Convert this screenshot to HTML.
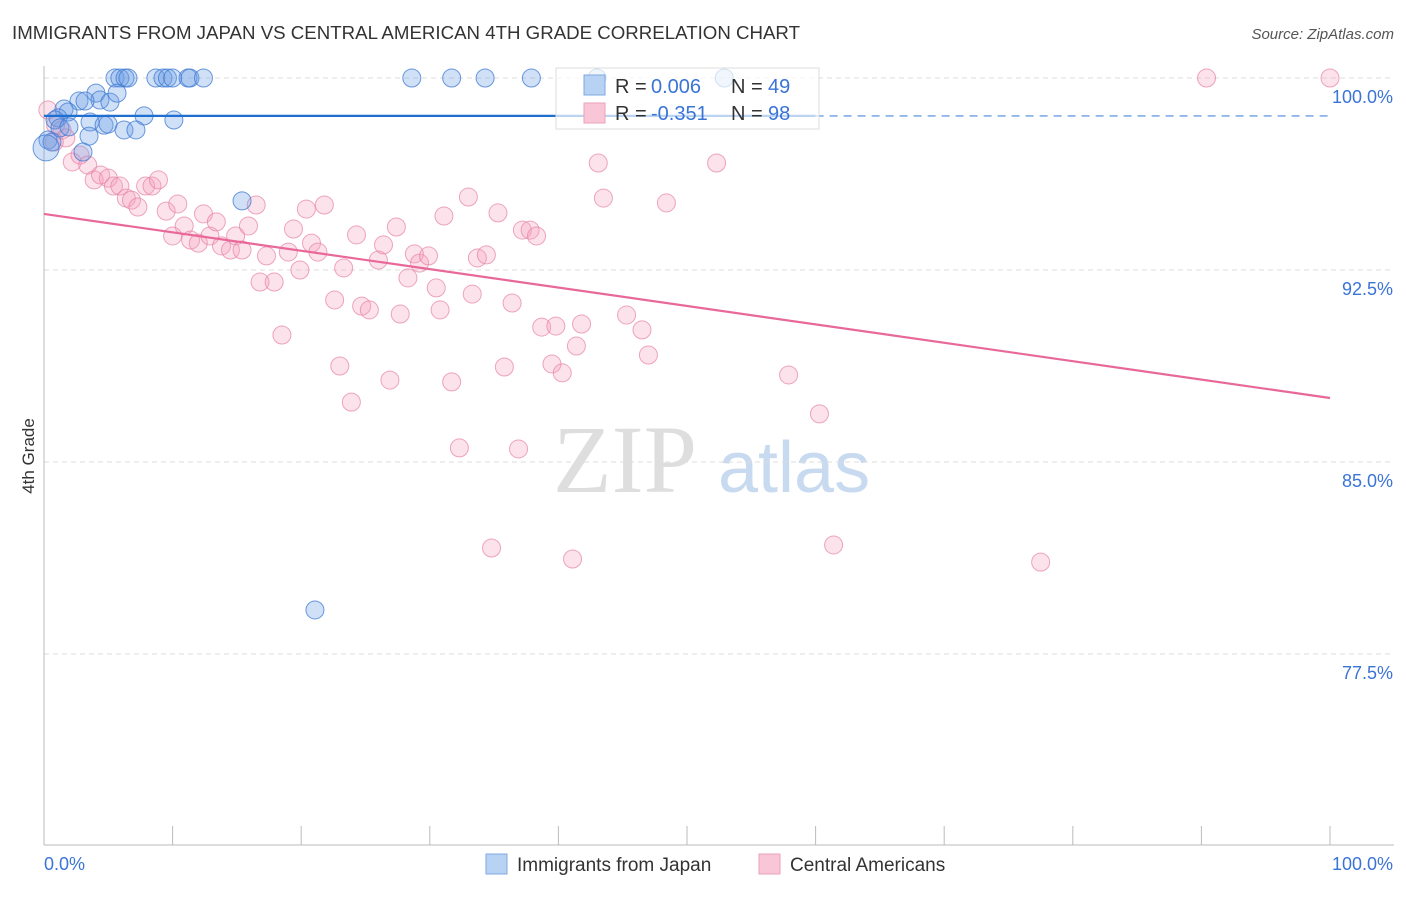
<!DOCTYPE html>
<html><head><meta charset="utf-8"><style>
body{margin:0;background:#fff;font-family:"Liberation Sans",sans-serif}
</style></head><body>
<svg id="chart" width="1406" height="892" xmlns="http://www.w3.org/2000/svg" font-family="Liberation Sans, sans-serif">
<text x="12" y="39" font-size="18" fill="#333" textLength="788" lengthAdjust="spacingAndGlyphs">IMMIGRANTS FROM JAPAN VS CENTRAL AMERICAN 4TH GRADE CORRELATION CHART</text>
<text x="1394" y="39" font-size="15" fill="#555" font-style="italic" text-anchor="end">Source: ZipAtlas.com</text>
<text transform="translate(34,456) rotate(-90)" font-size="17" fill="#333" text-anchor="middle">4th Grade</text>
<g>
<text x="553" y="492" font-size="96" fill="#dedede" font-family="Liberation Serif, serif">ZIP</text>
<text x="718" y="492" font-size="72" fill="#c8daf0">atlas</text>
</g>
<g id="grid"></g>
<g id="axes"></g>
<g id="pts"></g>
<g id="lines"></g>
<g>
<rect x="556" y="68" width="263" height="61" fill="rgba(255,255,255,0.7)" stroke="#ddd"/>
<rect x="584" y="75" width="21" height="20" fill="#b8d2f4" stroke="#7fa8e0"/>
<rect x="584" y="103" width="21" height="20" fill="#f8c6d6" stroke="#eaa2bc"/>
<text x="615" y="93" font-size="20" fill="#333">R = </text><text x="651" y="93" font-size="20" fill="#3a74d6">0.006</text>
<text x="731" y="93" font-size="20" fill="#333">N = </text><text x="768" y="93" font-size="20" fill="#3a74d6">49</text>
<text x="615" y="120" font-size="20" fill="#333">R = </text><text x="651" y="120" font-size="20" fill="#3a74d6">-0.351</text>
<text x="731" y="120" font-size="20" fill="#333">N = </text><text x="768" y="120" font-size="20" fill="#3a74d6">98</text>
</g>
<g>
<rect x="486" y="854" width="21" height="20" fill="#b8d2f4" stroke="#7fa8e0"/>
<text x="517" y="871" font-size="19" fill="#333">Immigrants from Japan</text>
<rect x="759" y="854" width="21" height="20" fill="#f8c6d6" stroke="#eaa2bc"/>
<text x="790" y="871" font-size="19" fill="#333">Central Americans</text>
</g>
</svg>
<script>
const yTicks=[100,92.5,85,77.5];
const yTickLabels=["100.0%","92.5%","85.0%","77.5%"];
const xTickCount=10;
const blueX=[5.52,5.9,6.3,6.53,8.7,9.25,9.6,10.0,11.2,11.35,12.4,28.6,31.7,34.3,37.9,43.0,52.9,4.04,4.35,2.72,3.19,5.13,5.68,1.56,1.87,1.09,0.86,7.78,10.1,1.24,1.94,3.58,4.67,4.98,6.22,7.15,3.5,0.31,0.62,0.16,3.03,15.4,21.07];
const blueY=[100,100,100,100,100,100,100,100,100,100,100,100,100,100,100,100,100,99.41,99.14,99.1,99.1,99.06,99.41,98.79,98.67,98.44,98.36,98.52,98.36,98.05,98.09,98.28,98.16,98.2,97.97,97.97,97.73,97.58,97.5,97.27,97.11,95.2,79.22];
const pinkX=[90.4,100,0.3,0.9,1.4,1.7,0.8,2.2,2.8,3.4,3.9,4.4,5.0,5.4,5.9,6.4,6.8,7.3,7.9,8.4,8.9,9.5,10.0,10.4,10.9,11.4,12.0,12.4,12.9,13.4,13.8,14.5,14.9,15.4,15.9,16.5,16.8,17.3,17.9,18.5,19.0,19.4,19.9,20.4,20.8,21.3,21.8,22.6,23.0,23.3,23.9,24.3,24.7,25.3,26.0,26.4,26.9,27.4,27.7,28.3,28.8,29.2,29.9,30.5,30.8,31.1,31.7,32.3,33.0,33.3,33.7,34.4,34.8,35.3,35.8,36.4,36.9,37.2,37.8,38.3,38.7,39.5,39.8,40.3,41.1,41.4,41.8,43.1,43.5,45.3,46.5,47.0,48.4,52.3,57.9,60.3,61.4,77.5];
const pinkY=[100,100,98.75,98.16,97.97,97.66,97.5,96.72,96.99,96.6,96.02,96.21,96.09,95.78,95.78,95.31,95.23,94.96,95.78,95.78,96.02,94.8,93.83,95.08,94.22,93.67,93.55,94.69,93.83,94.38,93.44,93.28,93.83,93.28,94.22,95.04,92.03,93.05,92.03,89.96,93.2,94.1,92.5,94.88,93.55,93.2,95.04,91.33,88.75,92.58,87.34,93.87,91.09,90.94,92.89,93.48,88.2,94.18,90.78,92.19,93.13,92.77,93.05,91.8,90.94,94.61,88.13,85.55,95.35,91.56,92.97,93.09,81.64,94.73,88.71,91.21,85.51,94.06,94.06,93.83,90.27,88.83,90.31,88.48,81.21,89.53,90.39,96.68,95.31,90.74,90.16,89.18,95.12,96.68,88.4,86.88,81.76,81.09];
const blueFit=[98.52,98.52];
const pinkFit=[94.69,87.5];

const NS="http://www.w3.org/2000/svg";
const X0=44,X1=1330,Y100=78,PX=25.6;
const sx=v=>X0+(X1-X0)*v/100;
const sy=v=>Y100+(100-v)*PX;
function mk(tag,attrs,parent){const e=document.createElementNS(NS,tag);for(const k in attrs)e.setAttribute(k,attrs[k]);document.getElementById(parent).appendChild(e);return e;}
yTicks.forEach((t,i)=>{
 const g=mk('line',{x1:X0,x2:1394,y1:sy(t),y2:sy(t),stroke:'#ddd','stroke-dasharray':'5,4'},'grid');
 
 
 const l=mk('text',{x:1393,y:sy(t)+25,'font-size':18,fill:'#3a74d6','text-anchor':'end'},'axes');
 l.textContent=yTickLabels[i];
 
 
});
const ya=mk('line',{x1:X0,x2:X0,y1:66,y2:845,stroke:'#bbb'},'axes');


const xa=mk('line',{x1:X0,x2:1394,y1:845,y2:845,stroke:'#bbb'},'axes');


for(let i=0;i<=xTickCount;i++){
 const t=mk('line',{x1:sx(i*10),x2:sx(i*10),y1:826,y2:845,stroke:'#bbb'},'axes');
 
 
}
const xl0=mk('text',{x:44,y:870,'font-size':18,fill:'#3a74d6'},'axes');xl0.textContent='0.0%';


const xl1=mk('text',{x:1393,y:870,'font-size':18,fill:'#3a74d6','text-anchor':'end'},'axes');xl1.textContent='100.0%';


pinkX.forEach((v,i)=>{
 const c=mk('circle',{cx:sx(v),cy:sy(pinkY[i]),r:9,fill:'rgba(244,160,188,0.3)',stroke:'rgba(230,130,165,0.7)','stroke-width':1},'pts');
 
 
});
blueX.forEach((v,i)=>{
 const c=mk('circle',{cx:sx(v),cy:sy(blueY[i]),r:(i==blueX.length-4?13:9),fill:'rgba(110,160,230,0.32)',stroke:'rgba(60,120,210,0.75)','stroke-width':1},'pts');
 
 
});
const b1=mk('line',{x1:sx(0),x2:sx(60),y1:sy(blueFit[0]),y2:sy(blueFit[0]+(blueFit[1]-blueFit[0])*0.6),stroke:'#1f6fd1','stroke-width':2.2},'lines');


const b2=mk('line',{x1:sx(60),x2:sx(100),y1:sy(blueFit[0]+(blueFit[1]-blueFit[0])*0.6),y2:sy(blueFit[1]),stroke:'#6a9ee0','stroke-width':1.4,'stroke-dasharray':'8,6'},'lines');


const p1=mk('line',{x1:sx(0),x2:sx(100),y1:sy(pinkFit[0]),y2:sy(pinkFit[1]),stroke:'#e8689a','stroke-width':2.2},'lines');


</script>
</body></html>
